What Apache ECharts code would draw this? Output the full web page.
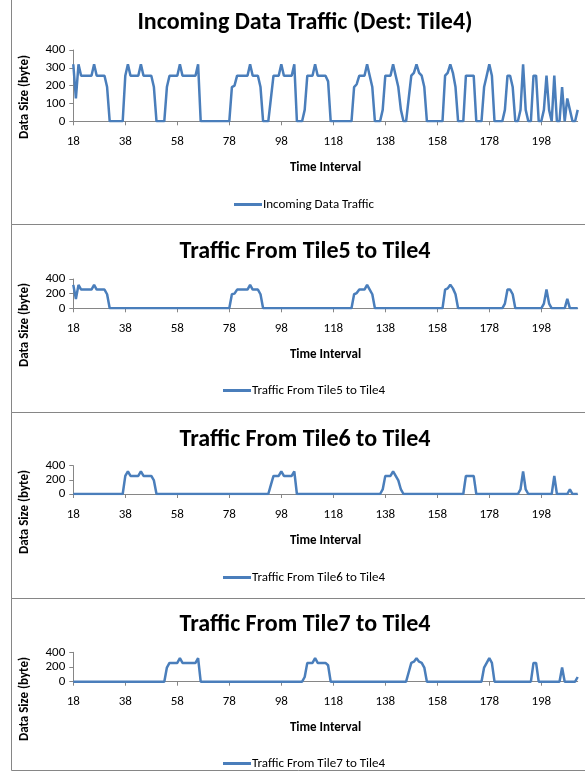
<!DOCTYPE html>
<html>
<head>
<meta charset="utf-8">
<title>Traffic to Tile4</title>
<script src="https://cdn.jsdelivr.net/npm/echarts@6/dist/echarts.min.js"></script>
<style>
  body { margin: 0; background: #fff; }
  #main { width: 585px; height: 773px; }
</style>
</head>
<body>
<div id="main"></div>
<script>
// time intervals shown on the x axis (one category per interval)
var firstT = 18, lastT = 212;

// bursts: [start interval, values...]; flat zero elsewhere
var incomingBursts = [
  [18, [320,128,320,256,256,256,256,256,320,256,256,256,256,192]],
  [38, [256,320,256,256,256,256,320,256,256,256,256,192]],
  [54, [192,256,256,256,256,320,256,256,256,256,256,256,320]],
  [79, [192,200,256,256,256,256,256,320,256,256,256,192]],
  [94, [128,256,256,256,320,256,256,256,256,320]],
  [107, [64,256,256,256,320,256,256,256,256,224]],
  [126, [192,208,256,256,256,320,256,192]],
  [137, [64,256,256,256,320,256,192,64]],
  [147, [128,256,272,320,272,256,192]],
  [161, [256,272,320,272,192]],
  [169, [256,256,256,256]],
  [176, [192,256,320,256]],
  [184, [64,256,256,192]],
  [190, [64,320,64]],
  [195, [256,256]],
  [199, [64,256,64]],
  [203, [256]],
  [206, [192]],
  [208, [128,64]],
  [212, [64]]
];
var tile5Bursts = [
  [18, [320,128,320,256,256,256,256,256,320,256,256,256,256,192]],
  [79, [192,200,256,256,256,256,256,320,256,256,256,192]],
  [126, [192,208,256,256,256,320,256,192]],
  [161, [256,272,320,272,192]],
  [184, [64,256,256,192]],
  [199, [64,256,64]],
  [208, [128]]
];
var tile6Bursts = [
  [38, [256,320,256,256,256,256,320,256,256,256,256,192]],
  [94, [128,256,256,256,320,256,256,256,256,320]],
  [137, [64,256,256,256,320,256,192,64]],
  [169, [256,256,256,256]],
  [190, [64,320,64]],
  [203, [256]],
  [209, [64]]
];
var tile7Bursts = [
  [54, [192,256,256,256,256,320,256,256,256,256,256,256,320]],
  [107, [64,256,256,256,320,256,256,256,256,224]],
  [147, [128,256,272,320,272,256,192]],
  [176, [192,256,320,256]],
  [195, [256,256]],
  [206, [192]],
  [212, [64]]
];

var titles = [
  'Incoming Data Traffic (Dest: Tile4)',
  'Traffic From Tile5 to Tile4',
  'Traffic From Tile6 to Tile4',
  'Traffic From Tile7 to Tile4'
];
var seriesNames = [
  'Incoming Data Traffic',
  'Traffic From Tile5 to Tile4',
  'Traffic From Tile6 to Tile4',
  'Traffic From Tile7 to Tile4'
];
var yTicks = [[0,100,200,300,400], [0,200,400], [0,200,400], [0,200,400]];

var categories = [];
for (var t = firstT; t <= lastT; t++) categories.push(String(t));

function expand(bursts) {
  var out = categories.map(function () { return 0; });
  bursts.forEach(function (b) {
    b[1].forEach(function (v, i) { out[b[0] - firstT + i] = v; });
  });
  return out;
}
var allData = [incomingBursts, tile5Bursts, tile6Bursts, tile7Bursts].map(expand);

// layout of the four stacked chart boxes
var boxes = [
  { y: -1, h: 225, titleTop: 6, gridTop: 50, gridH: 71.3, yName: 97, legendTop: 193, legendLeft: 229 },
  { y: 224, h: 188, titleTop: 235, gridTop: 279, gridH: 29.3, yName: 325, legendTop: 379, legendLeft: 218 },
  { y: 412, h: 186, titleTop: 423, gridTop: 465.7, gridH: 28.3, yName: 512, legendTop: 566, legendLeft: 218 },
  { y: 598, h: 172, titleTop: 608, gridTop: 652.3, gridH: 29.4, yName: 699, legendTop: 752, legendLeft: 218 }
];

var font = 'Carlito, Calibri, Lato, sans-serif';
var blue = '#4A7EBB';
var axisGrey = '#868686';

var option = {
  animation: false,
  textStyle: { fontFamily: font },
  title: [], grid: [], xAxis: [], yAxis: [], series: [], legend: [], graphic: []
};

boxes.forEach(function (b, i) {
  option.graphic.push({
    type: 'rect', silent: true,
    shape: { x: 11.5, y: b.y + 0.5, width: 600, height: b.h },
    style: { fill: 'none', stroke: axisGrey, lineWidth: 1 }
  });
  option.graphic.push({
    type: 'text', silent: true,
    x: 25, y: b.yName, rotation: Math.PI / 2,
    style: { text: 'Data Size (byte)', font: 'bold 13px ' + font, fill: '#000',
             align: 'center', verticalAlign: 'middle' }
  });
  option.title.push({
    text: titles[i], left: 300, top: b.titleTop, textAlign: 'center',
    textStyle: { fontSize: 24, fontWeight: 'bold', color: '#000', fontFamily: font }
  });
  option.grid.push({ left: 73.3, right: 7.3, top: b.gridTop, height: b.gridH });
  option.xAxis.push({
    type: 'category', gridIndex: i, data: categories, boundaryGap: false,
    name: 'Time Interval', nameLocation: 'middle', nameGap: 40,
    nameTextStyle: { fontSize: 13, fontWeight: 'bold', color: '#000', fontFamily: font },
    axisLine: { lineStyle: { color: axisGrey, width: 1 } },
    axisTick: { interval: 19, length: 4, lineStyle: { color: axisGrey } },
    axisLabel: { interval: 19, margin: 14, fontSize: 13, color: '#000', fontFamily: font },
    splitLine: { show: false }
  });
  var ticks = yTicks[i];
  option.yAxis.push({
    type: 'value', gridIndex: i, min: ticks[0], max: ticks[ticks.length - 1],
    interval: ticks[1] - ticks[0],
    axisLine: { show: true, lineStyle: { color: axisGrey, width: 1 } },
    axisTick: { show: true, length: 4, lineStyle: { color: axisGrey } },
    axisLabel: { margin: 8, fontSize: 13, color: '#000', fontFamily: font },
    splitLine: { show: false }
  });
  option.series.push({
    name: seriesNames[i], type: 'line', xAxisIndex: i, yAxisIndex: i,
    data: allData[i], symbol: 'none',
    lineStyle: { color: blue, width: 2.5 }, itemStyle: { color: blue }
  });
  option.legend.push({
    data: [seriesNames[i]], left: b.legendLeft, top: b.legendTop,
    icon: 'rect', itemWidth: 28, itemHeight: 3,
    textStyle: { fontSize: 13, color: '#000', fontFamily: font, padding: [0, 0, 0, -4] }
  });
});

var chart = echarts.init(document.getElementById('main'));
chart.setOption(option);
</script>
</body>
</html>
